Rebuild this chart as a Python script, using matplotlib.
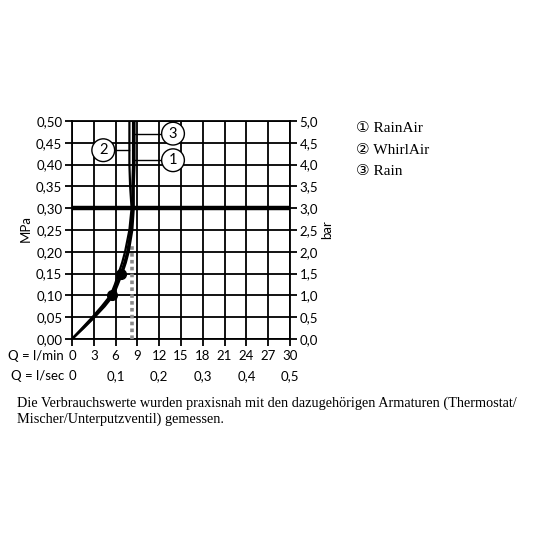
import matplotlib
matplotlib.use("Agg")
import matplotlib.pyplot as plt
import matplotlib.transforms as mtransforms

# pressure levels (MPa) and flow (l/min) for each shower mode
pressure = [0, 0.025, 0.05, 0.075, 0.10, 0.125, 0.15, 0.175, 0.20, 0.25, 0.30, 0.35, 0.40, 0.45, 0.50]
rainair = [0, 1.5, 3.0, 4.3, 5.5, 6.1, 6.7, 7.2, 7.6, 8.1, 8.35, 8.3, 8.4, 8.4, 8.4]
whirlair = [0, 1.4, 2.8, 4.1, 5.3, 5.9, 6.4, 6.9, 7.3, 7.9, 8.2, 8.0, 7.9, 7.9, 7.9]
rain = [0, 1.6, 3.1, 4.5, 5.7, 6.3, 6.9, 7.4, 7.8, 8.3, 8.5, 8.5, 8.6, 8.6, 8.6]

marker_q = [5.5, 6.7]
marker_p = [0.10, 0.15]

limit_q = 8.25
limit_p = 0.22

lmin_ticks = [0, 3, 6, 9, 12, 15, 18, 21, 24, 27, 30]
lsec_ticks = [0, 0.1, 0.2, 0.3, 0.4, 0.5]
mpa_ticks = [0, 0.05, 0.10, 0.15, 0.20, 0.25, 0.30, 0.35, 0.40, 0.45, 0.50]
bar_ticks = [0, 0.5, 1.0, 1.5, 2.0, 2.5, 3.0, 3.5, 4.0, 4.5, 5.0]

legend_labels = ["\u2460 RainAir", "\u2461 WhirlAir", "\u2462 Rain"]
note = ("Die Verbrauchswerte wurden praxisnah mit den dazugehörigen Armaturen (Thermostat/\n"
        "Mischer/Unterputzventil) gemessen.")

sans = ["Lato", "DejaVu Sans"]
serif = ["Liberation Serif", "DejaVu Sans"]
fs = 9.5

fig = plt.figure(figsize=(5.36, 5.36), dpi=100)
ax = fig.add_axes([72 / 536, 1 - 339 / 536, 218 / 536, 218 / 536])

ax.set_xlim(0, 30)
ax.set_ylim(0, 0.5)

# grid
for q in lmin_ticks:
    ax.axvline(q, color="black", lw=1.3, zorder=1)
for p in mpa_ticks:
    ax.axhline(p, color="black", lw=1.3, zorder=1)
ax.axhline(0.30, color="black", lw=3.2, zorder=2)

for s in ax.spines.values():
    s.set_linewidth(1.3)

# flow limiter line
ax.plot([limit_q, limit_q], [0, limit_p], color="#8a8a8a", lw=2.6,
        linestyle=(0, (1, 0.9)), zorder=3)

# curves
for q in (whirlair, rainair, rain):
    ax.plot(q, pressure, color="black", lw=1.6, solid_capstyle="butt", zorder=4)
ax.plot(marker_q, marker_p, "o", color="black", ms=7, zorder=5)

# callouts
callouts = [("3", 8.5, 12.5, 13.9, 0.471), ("1", 8.5, 12.5, 13.9, 0.410),
            ("2", 7.9, 5.6, 4.3, 0.433)]
for num, x0, x1, cx, cy in callouts:
    ax.plot([x0, x1], [cy, cy], color="black", lw=1.0, zorder=4)
    ax.text(cx, cy, num, ha="center", va="center", fontsize=10.5, family=sans,
            bbox=dict(boxstyle="circle,pad=0.3", fc="white", ec="black", lw=1.0),
            zorder=6)

# left axis
ax.set_yticks(mpa_ticks)
ax.set_yticklabels([f"{p:.2f}".replace(".", ",") for p in mpa_ticks],
                   family=sans, fontsize=fs)
ax.set_xticks(lmin_ticks)
ax.set_xticklabels([str(q) for q in lmin_ticks], family=sans, fontsize=fs)
ax.tick_params(axis="both", length=5, width=1.3, pad=2)
ax.tick_params(axis="x", pad=3)

# right axis
ax2 = ax.twinx()
ax2.set_ylim(0, 5)
ax2.set_yticks(bar_ticks)
ax2.set_yticklabels([f"{b:.1f}".replace(".", ",") for b in bar_ticks],
                    family=sans, fontsize=fs)
ax2.tick_params(axis="y", length=5, width=1.3, pad=2)
for s in ax2.spines.values():
    s.set_visible(False)

fig.text(26 / 536, 1 - 228 / 536, "MPa", rotation=90, ha="center", va="center",
         family=sans, fontsize=fs)
fig.text(327 / 536, 1 - 230 / 536, "bar", rotation=90, ha="center", va="center",
         family=sans, fontsize=fs)

# bottom rows
trans = mtransforms.blended_transform_factory(ax.transData, fig.transFigure)
fig.text(64 / 536, 1 - 356 / 536, "Q = l/min", ha="right", va="center",
         family=sans, fontsize=fs)
fig.text(64 / 536, 1 - 376 / 536, "Q = l/sec", ha="right", va="center",
         family=sans, fontsize=fs)
for v in lsec_ticks:
    lab = "0" if v == 0 else f"{v:.1f}".replace(".", ",")
    ax.text(v * 60, 1 - 376 / 536, lab, transform=trans, ha="center", va="center",
            family=sans, fontsize=fs)

# legend
for i, lab in enumerate(legend_labels):
    fig.text(356 / 536, 1 - (128 + i * 22) / 536, lab, ha="left", va="center",
             family=serif, fontsize=11)

fig.text(17 / 536, 1 - 411 / 536, note, ha="left", va="center", family=serif,
         fontsize=10.3, linespacing=1.2)

fig.savefig("out.png", dpi=100)
